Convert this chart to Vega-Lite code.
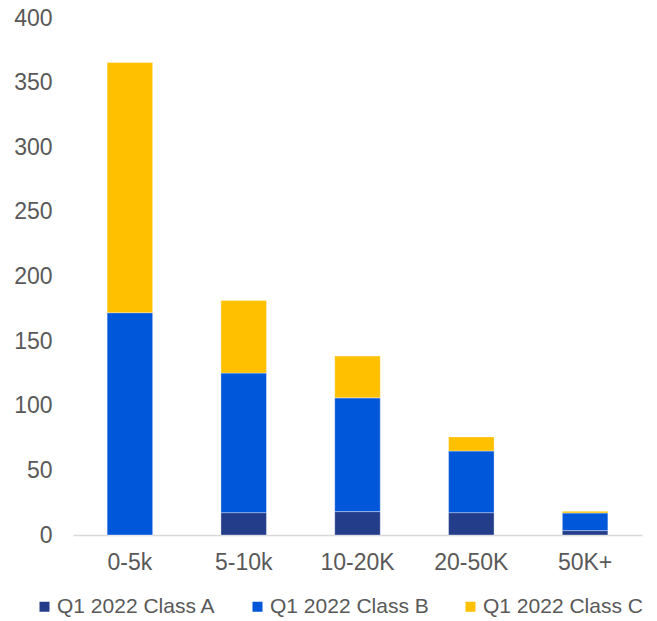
{
  "$schema": "https://vega.github.io/schema/vega-lite/v6.json",
  "width": 569,
  "height": 517,
  "autosize": {"type": "none"},
  "padding": {"left": 73, "top": 18, "right": 15, "bottom": 86},
  "background": "white",
  "config": {
    "view": {"stroke": null},
    "font": "Liberation Sans"
  },
  "data": {
    "values": [
      {"band": "0-5k", "series": "Q1 2022 Class A", "k": 1, "value": 0},
      {"band": "0-5k", "series": "Q1 2022 Class B", "k": 2, "value": 172},
      {"band": "0-5k", "series": "Q1 2022 Class C", "k": 3, "value": 193.5},
      {"band": "5-10k", "series": "Q1 2022 Class A", "k": 1, "value": 17.3},
      {"band": "5-10k", "series": "Q1 2022 Class B", "k": 2, "value": 108},
      {"band": "5-10k", "series": "Q1 2022 Class C", "k": 3, "value": 56.2},
      {"band": "10-20K", "series": "Q1 2022 Class A", "k": 1, "value": 18.1},
      {"band": "10-20K", "series": "Q1 2022 Class B", "k": 2, "value": 88},
      {"band": "10-20K", "series": "Q1 2022 Class C", "k": 3, "value": 32.3},
      {"band": "20-50K", "series": "Q1 2022 Class A", "k": 1, "value": 17.3},
      {"band": "20-50K", "series": "Q1 2022 Class B", "k": 2, "value": 47.7},
      {"band": "20-50K", "series": "Q1 2022 Class C", "k": 3, "value": 10.9},
      {"band": "50K+", "series": "Q1 2022 Class A", "k": 1, "value": 3.4},
      {"band": "50K+", "series": "Q1 2022 Class B", "k": 2, "value": 13.6},
      {"band": "50K+", "series": "Q1 2022 Class C", "k": 3, "value": 1.3}
    ]
  },
  "mark": {"type": "bar", "stroke": "#FFFFFF", "strokeOpacity": 0.35, "strokeWidth": 1},
  "encoding": {
    "x": {
      "field": "band",
      "type": "nominal",
      "sort": ["0-5k", "5-10k", "10-20K", "20-50K", "50K+"],
      "scale": {"paddingInner": 0.6, "paddingOuter": 0.3},
      "axis": {
        "title": null,
        "labelAngle": 0,
        "labelFontSize": 23,
        "labelColor": "#595959",
        "labelPadding": 16,
        "ticks": false,
        "domainColor": "#D9D9D9",
        "domainWidth": 1.5,
        "grid": false
      }
    },
    "y": {
      "field": "value",
      "type": "quantitative",
      "stack": "zero",
      "scale": {"domain": [0, 400]},
      "axis": {
        "title": null,
        "values": [0, 50, 100, 150, 200, 250, 300, 350, 400],
        "labelFontSize": 23,
        "labelColor": "#595959",
        "labelPadding": 21,
        "ticks": false,
        "domain": false,
        "grid": false
      }
    },
    "color": {
      "field": "series",
      "type": "nominal",
      "scale": {
        "domain": ["Q1 2022 Class A", "Q1 2022 Class B", "Q1 2022 Class C"],
        "range": ["#243D8B", "#0057DA", "#FFC000"]
      },
      "legend": {
        "title": null,
        "orient": "none",
        "legendX": -39,
        "legendY": 578,
        "direction": "horizontal",
        "columns": 3,
        "columnPadding": 31,
        "symbolType": "square",
        "symbolSize": 100,
        "symbolStrokeWidth": 0,
        "labelFontSize": 21,
        "labelColor": "#595959",
        "labelOffset": 2
      }
    },
    "order": {"field": "k", "type": "quantitative"}
  }
}
